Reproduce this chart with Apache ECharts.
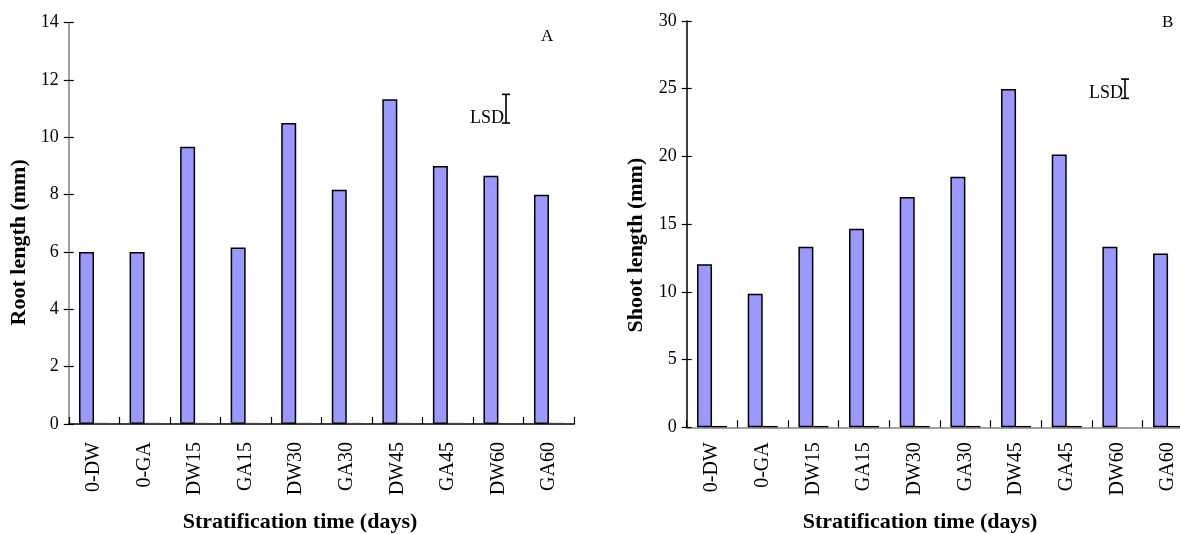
<!DOCTYPE html>
<html>
<head>
<meta charset="utf-8">
<script src="https://cdn.jsdelivr.net/npm/echarts@6/dist/echarts.min.js"></script>
<style>
html,body{margin:0;padding:0;background:#fff;}
#c{width:1180px;height:534px;}
</style>
</head>
<body>
<div id="c"></div>
<script>
// ---- data ----
const categories = ['0-DW', '0-GA', 'DW15', 'GA15', 'DW30', 'GA30', 'DW45', 'GA45', 'DW60', 'GA60'];
const rootLength = [6.0, 6.0, 9.67, 6.16, 10.5, 8.17, 11.33, 9.0, 8.66, 8.0];
const rootSecond = [0.04, 0.04, 0.04, 0.04, 0.04, 0.04, 0.04, 0.04, null, 0.04];
const shootLength = [12.03, 9.86, 13.33, 14.66, 17.0, 18.5, 24.97, 20.15, 13.33, 12.84];
const shootSecond = [0.1, 0.1, 0.1, 0.1, 0.1, 0.1, 0.1, 0.1, null, 0.1];
const rootTicks = { min: 0, max: 14, interval: 2 };
const shootTicks = { min: 0, max: 30, interval: 5 };
const lsdRoot = 1.0;
const lsdShoot = 1.42;
const lsdRootAt = [8, 11.0];
const lsdShootAt = [8, 25.0];

const FONT = "'Liberation Serif', 'Times New Roman', serif";
const chart = echarts.init(document.getElementById('c'), null, { renderer: 'canvas' });

function lsdRender(params, api) {
  const cx = api.value(0), cy = api.value(1), v = api.value(2);
  const w = api.size([1, 0])[0];
  const c = api.coord([cx, cy]);
  const x = c[0] + 0.15 * w;
  const top = api.coord([cx, cy + v / 2])[1];
  const bot = api.coord([cx, cy - v / 2])[1];
  const st = { stroke: '#000', lineWidth: 1.6 };
  return {
    type: 'group',
    children: [
      { type: 'line', shape: { x1: x, y1: top, x2: x, y2: bot }, style: st },
      { type: 'line', shape: { x1: x - 4, y1: top, x2: x + 4, y2: top }, style: st },
      { type: 'line', shape: { x1: x - 4, y1: bot, x2: x + 4, y2: bot }, style: st },
      { type: 'text', x: x - 2, y: bot + 4, style: { text: 'LSD', textAlign: 'right', textVerticalAlign: 'bottom', font: '18px ' + FONT, fill: '#000' } }
    ]
  };
}

function yAxes(gridIndex, ticks, name, lineColor, nameGap, pad) {
  return [{
    type: 'value', gridIndex: gridIndex, position: 'left',
    min: ticks.min, max: ticks.max, interval: ticks.interval,
    name: name, nameLocation: 'middle', nameGap: nameGap,
    nameTextStyle: { fontFamily: FONT, fontSize: 22, fontWeight: 'bold', color: '#000', padding: [0, pad, 0, 0] },
    axisLine: { show: true, lineStyle: { color: lineColor, width: 1.5 } },
    axisTick: { show: true, length: 5, lineStyle: { color: '#000', width: 1.2 } },
    axisLabel: { fontFamily: FONT, fontSize: 18, color: '#000', margin: 10 },
    splitLine: { show: false }
  }, {
    type: 'value', gridIndex: gridIndex, position: 'left',
    min: ticks.min, max: ticks.max, interval: ticks.interval,
    axisLine: { show: false },
    axisTick: { show: true, inside: true, length: 5, lineStyle: { color: '#000', width: 1.2 } },
    axisLabel: { show: false },
    splitLine: { show: false }
  }];
}

function xAxis(gridIndex, lineColor, nameGap, pad, labelMargin) {
  return {
    type: 'category', gridIndex: gridIndex, data: categories,
    name: 'Stratification time (days)', nameLocation: 'middle', nameGap: nameGap,
    nameTextStyle: { fontFamily: FONT, fontSize: 22, fontWeight: 'bold', color: '#000', padding: [0, pad, 0, 0] },
    axisLine: { show: true, lineStyle: { color: lineColor, width: 1.5 } },
    axisTick: { show: true, inside: true, length: 7, alignWithLabel: false, lineStyle: { color: '#000', width: 1.2 } },
    axisLabel: { rotate: 90, fontFamily: FONT, fontSize: 20, color: '#000', margin: labelMargin, interval: 0 },
    splitLine: { show: false }
  };
}

const barStyle = { color: '#9999FF', borderColor: '#000', borderWidth: 1.5 };

const option = {
  animation: false,
  backgroundColor: '#fff',
  title: [
    { text: 'A', left: 536, top: 23, textStyle: { fontFamily: FONT, fontSize: 17, fontWeight: 'normal', color: '#000' } },
    { text: 'B', left: 1157, top: 9, textStyle: { fontFamily: FONT, fontSize: 17, fontWeight: 'normal', color: '#000' } }
  ],
  grid: [
    { left: 68.75, width: 505.5, top: 22.7, height: 401.3, containLabel: false, outerBoundsMode: 'none' },
    { left: 686.7, width: 506.7, top: 21, height: 406.3, containLabel: false, outerBoundsMode: 'none' }
  ],
  xAxis: [xAxis(0, '#000', 87, 43, 18), xAxis(1, '#808080', 84, 40, 15)],
  yAxis: [].concat(yAxes(0, rootTicks, 'Root length (mm)', '#808080', 38, 38), yAxes(1, shootTicks, 'Shoot length (mm)', '#000', 39, 42)),
  series: [
    { type: 'bar', xAxisIndex: 0, yAxisIndex: 0, data: rootLength, barWidth: 15, barGap: '0%', itemStyle: barStyle },
    { type: 'bar', xAxisIndex: 0, yAxisIndex: 0, data: rootSecond, barWidth: 15, barGap: '0%', itemStyle: { color: '#444' } },
    { type: 'bar', xAxisIndex: 1, yAxisIndex: 2, data: shootLength, barWidth: 15, barGap: '0%', itemStyle: barStyle },
    { type: 'bar', xAxisIndex: 1, yAxisIndex: 2, data: shootSecond, barWidth: 15, barGap: '0%', itemStyle: { color: '#000' } },
    { type: 'custom', xAxisIndex: 0, yAxisIndex: 0, data: [[lsdRootAt[0], lsdRootAt[1], lsdRoot]], renderItem: lsdRender, z: 5 },
    { type: 'custom', xAxisIndex: 1, yAxisIndex: 2, data: [[lsdShootAt[0], lsdShootAt[1], lsdShoot]], renderItem: lsdRender, z: 5 }
  ]
};
chart.setOption(option);
</script>
</body>
</html>
